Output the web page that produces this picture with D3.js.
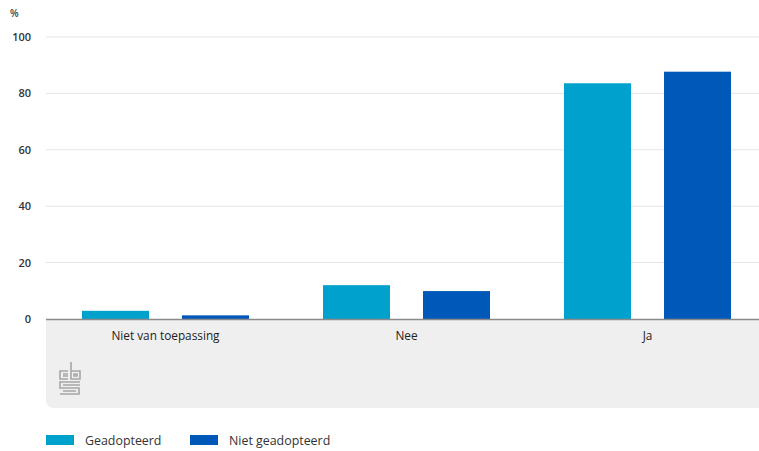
<!DOCTYPE html>
<html><head><meta charset="utf-8">
<script src="https://cdn.jsdelivr.net/npm/d3@7"></script>
<style>body{margin:0;background:#fff;font-family:"Open Sans",sans-serif;}</style>
</head><body><svg id="c" width="759" height="451"></svg>
<script>
const categories = ["Niet van toepassing", "Nee", "Ja"];
const seriesNames = ["Geadopteerd", "Niet geadopteerd"];
const geadopteerd = [2.9, 12.0, 83.6];
const nietGeadopteerd = [1.3, 9.9, 87.7];
const yTicks = [0, 20, 40, 60, 80, 100];
const colors = ["#00a1cd", "#0058b8"];

const svg = d3.select("#c");
const y = d3.scaleLinear().domain([0, 100]).range([319, 37]);
const x0 = d3.scaleBand().domain(categories).range([45, 768]).paddingInner(0).paddingOuter(0);
const x1 = d3.scaleBand().domain(seriesNames).range([37, x0.bandwidth() - 37]).paddingInner(0.33);

// grey background panel
svg.append("path")
  .attr("d", "M46,319 H770 V408 H54 Q46,408 46,400 Z")
  .attr("fill", "#efefef");

// gridlines
svg.append("g").selectAll("line").data(yTicks.filter(d => d > 0)).join("line")
  .attr("x1", 46).attr("x2", 759).attr("y1", d => y(d)).attr("y2", d => y(d))
  .attr("stroke", "#e4e4e4").attr("stroke-width", 1);

// y axis labels
const yAxis = d3.axisLeft(y).tickValues(yTicks).tickSize(0).tickPadding(0);
const ya = svg.append("g").attr("transform", "translate(31,0)").call(yAxis);
ya.select(".domain").remove();
ya.selectAll("text").attr("font-family", "Open Sans, sans-serif").attr("font-size", 11)
  .attr("font-weight", 600).attr("fill", "#333");
svg.append("text").attr("x", 10).attr("y", 17).text("%")
  .attr("font-size", 10).attr("font-weight", 600).attr("fill", "#444");

// bars
const data = categories.map((c, i) => ({cat: c, vals: [geadopteerd[i], nietGeadopteerd[i]]}));
const g = svg.append("g").selectAll("g").data(data).join("g")
  .attr("transform", d => `translate(${x0(d.cat)},0)`);
g.selectAll("rect").data(d => d.vals.map((v, j) => ({s: seriesNames[j], v, j}))).join("rect")
  .attr("x", d => x1(d.s)).attr("width", x1.bandwidth())
  .attr("y", d => y(d.v)).attr("height", d => y(0) - y(d.v))
  .attr("fill", d => colors[d.j]);

// x axis
const xAxis = d3.axisBottom(x0).tickSize(0).tickPadding(13);
const xa = svg.append("g").attr("transform", "translate(0,319)").call(xAxis);
xa.select(".domain").remove();
xa.selectAll("text").attr("font-family", "Open Sans, sans-serif").attr("font-size", 11.8)
  .attr("font-weight", 500).attr("fill", "#222");
svg.append("line").attr("x1", 46).attr("x2", 759).attr("y1", 319.5).attr("y2", 319.5)
  .attr("stroke", "#8a8a8a").attr("stroke-width", 1.5);

// cbs logo
const logo = svg.append("g").attr("transform", "translate(59,362)")
  .attr("fill", "none").attr("stroke", "#a6a6a6").attr("stroke-width", 1.6);
logo.append("path").attr("d", "M9,9 H1 V17 H9");
logo.append("path").attr("d", "M4,12 H9 M4,14 H9");
logo.append("path").attr("d", "M12,0 V17 H21 V9 H12");
logo.append("path").attr("d", "M15,12 H18 V14 H15 Z");
logo.append("path").attr("d", "M21,20 H1 V26 H20 V32 H1 M4,23 H21 M4,29 H17");

// legend
const leg = svg.append("g").attr("transform", "translate(46,435)");
const li = leg.selectAll("g").data(seriesNames).join("g")
  .attr("transform", (d, i) => `translate(${i * 144},0)`);
li.append("rect").attr("width", 28).attr("height", 10).attr("fill", (d, i) => colors[i]);
li.append("text").attr("x", 39).attr("y", 9.5).text(d => d)
  .attr("font-size", 12.4).attr("fill", "#333");
</script></body></html>
